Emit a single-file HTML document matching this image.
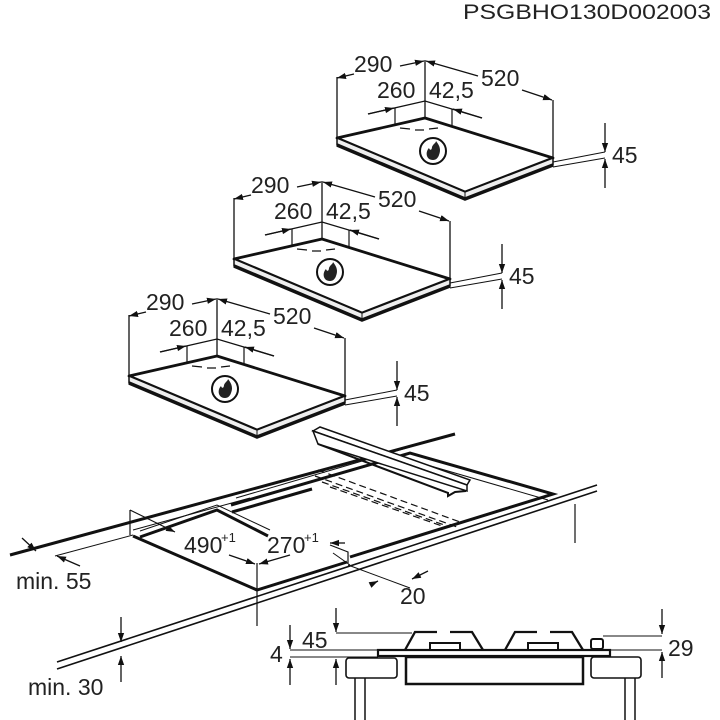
<!DOCTYPE html>
<html><head><meta charset="utf-8"><style>
html,body{margin:0;padding:0;background:#fff;}
svg{display:block;}
text{font-family:"Liberation Sans",sans-serif;fill:#222;}
</style></head><body>
<svg width="720" height="720" viewBox="0 0 720 720" xmlns="http://www.w3.org/2000/svg">
<defs>
<marker id="a" viewBox="0 0 10 10" refX="10" refY="5" markerWidth="9" markerHeight="9" markerUnits="userSpaceOnUse" orient="auto-start-reverse">
<path d="M0,1.5 L10,5 L0,8.5 Z" fill="#111"/></marker>
<g id="hob">
<polygon points="337,138 425,118 553,158 465,192" fill="#fff" stroke="#111" stroke-width="2.8" stroke-linejoin="round"/>
<polygon points="337,138 465,192 553,158 553,165 465,199 337,145" fill="#eee" stroke="#111" stroke-width="1.5"/>
<polyline points="337,145 465,199 553,165" fill="none" stroke="#111" stroke-width="3.5"/>
<line x1="465" y1="192" x2="465" y2="199" stroke="#111" stroke-width="1"/>
<line x1="337" y1="77" x2="337" y2="138" stroke="#111" stroke-width="1.3"/>
<line x1="425" y1="60" x2="425" y2="118" stroke="#111" stroke-width="1.3"/>
<line x1="553" y1="100" x2="553" y2="158" stroke="#111" stroke-width="1.3"/>
<line x1="337" y1="78" x2="354" y2="74" stroke="#111" stroke-width="1.3" marker-start="url(#a)"/>
<line x1="400" y1="66" x2="424" y2="61" stroke="#111" stroke-width="1.3" marker-end="url(#a)"/>
<text x="354" y="72" font-size="23">290</text>
<line x1="426" y1="61" x2="478" y2="76" stroke="#111" stroke-width="1.3" marker-start="url(#a)"/>
<line x1="522" y1="90" x2="552" y2="100" stroke="#111" stroke-width="1.3" marker-end="url(#a)"/>
<text x="481" y="86" font-size="23">520</text>
<polyline points="368,114 425,101 482,118" fill="none" stroke="#111" stroke-width="1.3"/>
<line x1="368" y1="114" x2="394" y2="108" stroke="#111" stroke-width="1.3" marker-end="url(#a)"/>
<line x1="482" y1="118" x2="453" y2="109" stroke="#111" stroke-width="1.3" marker-end="url(#a)"/>
<line x1="395" y1="108" x2="395" y2="124" stroke="#111" stroke-width="1.2"/>
<line x1="452" y1="109" x2="452" y2="126" stroke="#111" stroke-width="1.2"/>
<text x="377" y="98" font-size="23">260</text>
<text x="429" y="98" font-size="23">42,5</text>
<path d="M400,128 L410,129 M415,130 L424,130 M429,129 L438,128" stroke="#111" stroke-width="1.3"/>
<circle cx="433" cy="151" r="13" fill="#fff" stroke="#111" stroke-width="2"/>
<path d="M433,160 C426,160 425,152 429,148 C430,151 432,150 432,147 C433,144 436,143 436,141 C440,146 441,150 439,155 C438,158 436,160 433,160 Z" fill="#222"/>
<line x1="553" y1="162" x2="605" y2="152" stroke="#111" stroke-width="1"/>
<line x1="553" y1="167" x2="605" y2="158" stroke="#111" stroke-width="1"/>
<line x1="605" y1="123" x2="605" y2="152" stroke="#111" stroke-width="1.3" marker-end="url(#a)"/>
<line x1="605" y1="188" x2="605" y2="159" stroke="#111" stroke-width="1.3" marker-end="url(#a)"/>
<text x="612" y="163" font-size="23">45</text>
</g>
</defs>

<text x="463" y="19" font-size="21" textLength="248" lengthAdjust="spacingAndGlyphs">PSGBHO130D002003</text>

<use href="#hob"/>
<use href="#hob" transform="translate(-103,121)"/>
<use href="#hob" transform="translate(-208,238)"/>

<g stroke="#111" fill="none">
<line x1="10" y1="555" x2="455" y2="434" stroke-width="3"/>
<line x1="55" y1="556" x2="133" y2="535" stroke-width="1"/>
<line x1="22" y1="538" x2="36" y2="551" stroke-width="1.3" marker-end="url(#a)"/>
<line x1="80" y1="566" x2="57" y2="556" stroke-width="1.3" marker-end="url(#a)"/>
<line x1="130" y1="510" x2="130" y2="535" stroke-width="1.2"/>
<line x1="130" y1="510" x2="175" y2="532" stroke-width="1.2" marker-end="url(#a)"/>
<line x1="133" y1="530" x2="250" y2="498" stroke-width="1"/>
<polyline points="133,536 257,590 347,562" stroke-width="3"/>
<polyline points="140,537 217,510 268,536" stroke-width="3"/>
<polyline points="140,531 217,505 270,530" stroke-width="1"/>
<line x1="257" y1="563" x2="257" y2="626" stroke-width="1.2"/>
<line x1="229" y1="555" x2="255" y2="564" stroke-width="1.3" marker-end="url(#a)"/>
<line x1="290" y1="555" x2="259" y2="564" stroke-width="1.3" marker-end="url(#a)"/>
<polyline points="231,505 410,453 553,494 350,557" stroke-width="3"/>
<polyline points="232,512 312,489" stroke-width="3"/>
<polyline points="236,498 410,447" stroke-width="1"/>
<polyline points="410,460 548,500" stroke-width="1"/>
<polyline points="330,545 348,552 348,563" stroke-width="1.2"/>
<line x1="350" y1="565" x2="333" y2="553" stroke-width="1"/>
<line x1="345" y1="543" x2="330" y2="543" stroke-width="1.3" marker-end="url(#a)"/>
<line x1="348" y1="565" x2="410" y2="588" stroke-width="1"/>
<line x1="428" y1="571" x2="412" y2="579" stroke-width="1.3" marker-end="url(#a)"/>
<line x1="370" y1="585" x2="378" y2="581" stroke-width="1.3" marker-end="url(#a)"/>
<g stroke-width="1.2" stroke-dasharray="7,4">
<line x1="315" y1="476" x2="457" y2="527"/>
<line x1="322" y1="482" x2="450" y2="527"/>
<line x1="330" y1="487" x2="445" y2="527"/>
<line x1="318" y1="470" x2="460" y2="522"/>
</g>
<polygon points="313,431 320,427 470,480 467,485" fill="#fff" stroke-width="1.5"/>
<polygon points="313,431 467,485 467,491 318,444" fill="#fff" stroke-width="1.5"/>
<polyline points="318,444 448,493 448,496 455,492 466,491" stroke-width="2"/>
<line x1="57" y1="669" x2="597" y2="491" stroke-width="1.6"/>
<line x1="57" y1="662" x2="597" y2="485" stroke-width="1.6"/>
<line x1="575" y1="504" x2="575" y2="543" stroke-width="1.2"/>
<line x1="121" y1="617" x2="121" y2="642" stroke-width="1.3" marker-end="url(#a)"/>
<line x1="121" y1="682" x2="121" y2="656" stroke-width="1.3" marker-end="url(#a)"/>
</g>
<text x="184" y="553" font-size="23">490</text>
<text x="221" y="542" font-size="13">+1</text>
<text x="267" y="553" font-size="23">270</text>
<text x="304" y="542" font-size="13">+1</text>
<text x="400" y="604" font-size="23">20</text>
<text x="16" y="589" font-size="23">min. 55</text>
<text x="28" y="695" font-size="23">min. 30</text>

<g stroke="#111" fill="none">
<rect x="378" y="650" width="232" height="6" stroke-width="2.2" fill="#fff"/>
<rect x="406" y="657" width="177" height="27" stroke-width="2.5"/>
<rect x="346" y="658" width="51" height="20" rx="3" stroke-width="1.6"/>
<rect x="591" y="657" width="50" height="21" rx="3" stroke-width="1.6"/>
<line x1="355" y1="678" x2="355" y2="720" stroke-width="1.5"/>
<line x1="365" y1="678" x2="365" y2="720" stroke-width="1.5"/>
<line x1="625" y1="678" x2="625" y2="720" stroke-width="1.5"/>
<line x1="635" y1="678" x2="635" y2="720" stroke-width="1.5"/>
<g stroke-width="2.3">
<polyline points="405,650 415,632 437,632"/><polyline points="450,632 472,632 483,650"/>
<polyline points="505,650 515,632 537,632"/><polyline points="550,632 572,632 583,650"/>
</g>
<rect x="430" y="643" width="30" height="7" stroke-width="2" fill="#fff"/>
<rect x="528" y="643" width="30" height="7" stroke-width="2" fill="#fff"/>
<rect x="591" y="639" width="12" height="10" rx="2" stroke-width="2" fill="#fff"/>
<line x1="336" y1="608" x2="336" y2="632" stroke-width="1.3" marker-end="url(#a)"/>
<line x1="336" y1="633" x2="412" y2="633" stroke-width="1"/>
<line x1="290" y1="625" x2="290" y2="649" stroke-width="1.3" marker-end="url(#a)"/>
<line x1="290" y1="650" x2="378" y2="650" stroke-width="1"/>
<line x1="290" y1="657" x2="378" y2="657" stroke-width="1"/>
<line x1="290" y1="685" x2="290" y2="659" stroke-width="1.3" marker-end="url(#a)"/>
<line x1="336" y1="685" x2="336" y2="659" stroke-width="1.3" marker-end="url(#a)"/>
<line x1="662" y1="609" x2="662" y2="634" stroke-width="1.3" marker-end="url(#a)"/>
<line x1="603" y1="636" x2="662" y2="636" stroke-width="1"/>
<line x1="610" y1="650" x2="662" y2="650" stroke-width="1"/>
<line x1="662" y1="678" x2="662" y2="652" stroke-width="1.3" marker-end="url(#a)"/>
</g>
<text x="302" y="648" font-size="23">45</text>
<text x="270" y="662" font-size="23">4</text>
<text x="668" y="656" font-size="23">29</text>
</svg>
</body></html>
